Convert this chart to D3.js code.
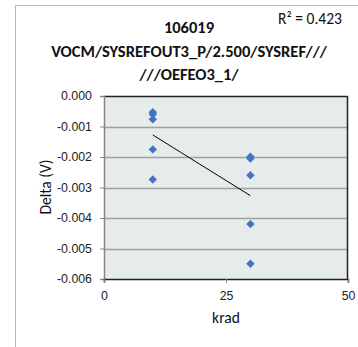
<!DOCTYPE html>
<html><head><meta charset="utf-8">
<script src="https://cdn.jsdelivr.net/npm/d3@7"></script>
<style>body{margin:0;background:#fff}svg{display:block;font-family:Carlito,Lato,"Open Sans",sans-serif}</style>
</head><body><svg id="c" width="358" height="347"></svg>
<script>
const xVals = [10,10,10,10,10,30,30,30,30,30];
const yVals = [-0.000535,-0.0006,-0.00076,-0.00175,-0.00274,-0.00199,-0.00205,-0.0026,-0.0042,-0.0055];
const xTicks = [0,25,50];
const yTicks = [0,-0.001,-0.002,-0.003,-0.004,-0.005,-0.006];
const titleLines = ["106019","VOCM/SYSREFOUT3_P/2.500/SYSREF///","///OEFEO3_1/"];
const r2Text = "R² = 0.423";

const svg = d3.select("#c");
const L=104, R=348, T=96, B=279;
const x = d3.scaleLinear().domain([0,50]).range([L,R]);
const y = d3.scaleLinear().domain([-0.006,0]).range([B,T]);

// font size that makes a string a given width
function fitSize(str, target, weight){
  const t = svg.append("text").attr("font-size",20).attr("font-weight",weight||"normal").text(str);
  const w = t.node().getComputedTextLength(); t.remove();
  return 20*target/w;
}
const tickFs = fitSize("-0.001",32);
const titleFs = fitSize(titleLines[1],276,"bold");
const r2Fs = fitSize(r2Text,64);
const labFs = (fitSize("krad",28)+fitSize("Delta (V)",55))/2;

// outer frame
svg.append("line").attr("x1",15).attr("x2",358).attr("y1",5.5).attr("y2",5.5).attr("stroke","#b8b8b8");
svg.append("line").attr("x1",15.5).attr("x2",15.5).attr("y1",5).attr("y2",347).attr("stroke","#b8b8b8");

svg.append("rect").attr("x",L).attr("y",T).attr("width",R-L).attr("height",B-T).attr("fill","#e6ebeb");
// gridlines
svg.append("g").selectAll("line").data(yTicks.slice(1,-1)).join("line")
  .attr("x1",L).attr("x2",R).attr("y1",d=>Math.round(y(d))+0.5).attr("y2",d=>Math.round(y(d))+0.5)
  .attr("stroke","#a0a0a0").attr("stroke-width",1.3);
// border top/right
svg.append("path").attr("d",`M${L},${T+0.5}H${R-0.5}V${B}`).attr("fill","none").attr("stroke","#222").attr("stroke-width",1.5);

const yAxis = d3.axisLeft(y).tickValues(yTicks).tickSize(4).tickPadding(8);
const gy = svg.append("g").attr("transform",`translate(${L},0)`).call(yAxis);
gy.select(".domain").attr("stroke","#868686").attr("stroke-width",1.5);
gy.selectAll(".tick line").attr("stroke","#868686");
gy.selectAll("text").attr("font-size",tickFs).attr("fill","#222").attr("font-family",null)
  .text(d=>d===0?"0.000":d3.format(".3f")(d).replace("−","-"));

const xAxis = d3.axisBottom(x).tickValues(xTicks).tickSize(4).tickPadding(8);
const gx = svg.append("g").attr("transform",`translate(0,${B})`).call(xAxis);
gx.select(".domain").attr("stroke","#222").attr("stroke-width",1.5);
gx.selectAll(".tick line").attr("stroke","#868686");
gx.selectAll("text").attr("font-size",tickFs).attr("fill","#222").attr("font-family",null);

// trend line
const mx=d3.mean(xVals), my=d3.mean(yVals);
const sxy=d3.sum(xVals,(v,i)=>(v-mx)*(yVals[i]-my)), sxx=d3.sum(xVals,v=>(v-mx)**2);
const slope=sxy/sxx, icpt=my-slope*mx;
const x0=d3.min(xVals), x1=d3.max(xVals);
svg.append("line").attr("x1",x(x0)).attr("y1",y(icpt+slope*x0)).attr("x2",x(x1)).attr("y2",y(icpt+slope*x1))
  .attr("stroke","#000").attr("stroke-width",1);

// points
svg.append("g").selectAll("path").data(xVals.map((v,i)=>[v,yVals[i]])).join("path")
  .attr("d",d3.symbol(d3.symbolDiamond2,45)).attr("transform",d=>`translate(${x(d[0])},${y(d[1])})`)
  .attr("fill","#4472c4");

// title
svg.append("g").selectAll("text").data(titleLines).join("text")
  .attr("x",189).attr("y",(d,i)=>[33,57,80][i]).attr("text-anchor","middle")
  .attr("font-size",titleFs).attr("font-weight","bold").attr("fill","#111").text(d=>d);
svg.append("text").attr("x",342).attr("y",24).attr("text-anchor","end").attr("font-size",r2Fs).attr("fill","#111").text(r2Text);

svg.append("text").attr("transform","translate(51,187) rotate(-90)").attr("text-anchor","middle")
  .attr("font-size",labFs).attr("fill","#111").text("Delta (V)");
svg.append("text").attr("x",226).attr("y",323).attr("text-anchor","middle").attr("font-size",labFs).attr("fill","#111").text("krad");
</script></body></html>
